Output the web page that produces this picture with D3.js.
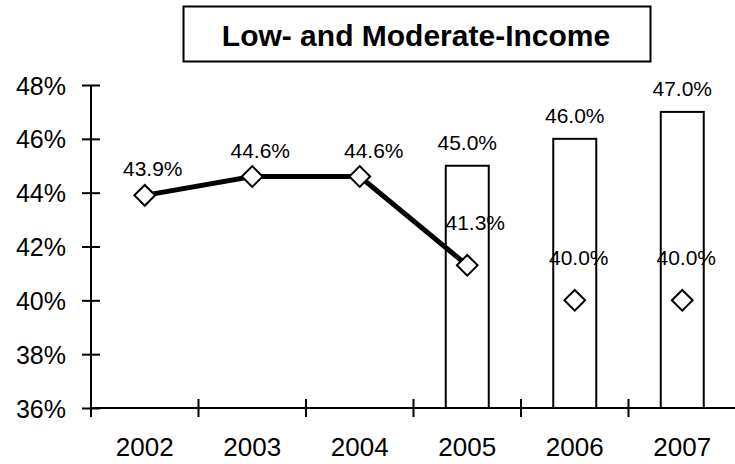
<!DOCTYPE html>
<html><head><meta charset="utf-8">
<script src="https://cdn.jsdelivr.net/npm/d3@7"></script>
<style>
body{margin:0;background:#fff;}
svg{display:block;}
text{font-family:"Liberation Sans",Arial,sans-serif;fill:#000;}
</style></head>
<body>
<svg id="chart" width="735" height="464"></svg>
<script>
const title = "Low- and Moderate-Income";
const years = ["2002","2003","2004","2005","2006","2007"];
const lineYears = ["2002","2003","2004","2005"];
const lineValues = [43.9, 44.6, 44.6, 41.3];
const pointYears = ["2006","2007"];
const pointValues = [40.0, 40.0];
const barYears = ["2005","2006","2007"];
const barValues = [45.0, 46.0, 47.0];
const yTicks = [36, 38, 40, 42, 44, 46, 48];

const svg = d3.select("#chart");
const x = d3.scaleBand().domain(years).range([91, 736]).paddingInner(0).paddingOuter(0);
const y = d3.scaleLinear().domain([36, 48]).range([408, 85]);
const barW = x.bandwidth() * 0.4;
const cx = d => x(d) + x.bandwidth() / 2;

// title box
svg.append("rect").attr("x", 183.5).attr("y", 6.5).attr("width", 467).attr("height", 55)
  .attr("fill", "#fff").attr("stroke", "#000").attr("stroke-width", 2);
svg.append("text").attr("x", 416).attr("y", 46).attr("text-anchor", "middle")
  .attr("font-size", 30).attr("font-weight", "bold").text(title);

// y axis
const yAxis = d3.axisLeft(y).tickValues(yTicks).tickSize(0).tickFormat(d => d + "%");
const gy = svg.append("g").attr("transform", "translate(91,0)").call(yAxis);
gy.select(".domain").remove();
gy.selectAll("text").attr("x", -25).attr("dy", "0.36em").attr("font-size", 25)
  .attr("font-family", "Liberation Sans, Arial, sans-serif");
gy.selectAll(".tick").append("line").attr("x1", -9).attr("x2", 9)
  .attr("stroke", "#000").attr("stroke-width", 2);
svg.append("line").attr("x1", 91).attr("x2", 91).attr("y1", y(48)).attr("y2", 417)
  .attr("stroke", "#000").attr("stroke-width", 2);

// x axis
const xAxis = d3.axisBottom(x).tickSize(0);
const gx = svg.append("g").attr("transform", "translate(0,408)").call(xAxis);
gx.select(".domain").remove();
gx.selectAll("text").attr("y", 48).attr("dy", 0).attr("font-size", 26)
  .attr("font-family", "Liberation Sans, Arial, sans-serif");
svg.append("line").attr("x1", 91).attr("x2", 735).attr("y1", 408).attr("y2", 408)
  .attr("stroke", "#000").attr("stroke-width", 2);
svg.append("g").selectAll("line").data(years.slice(1)).join("line")
  .attr("x1", d => x(d)).attr("x2", d => x(d)).attr("y1", 399).attr("y2", 417)
  .attr("stroke", "#000").attr("stroke-width", 2);

// bars
svg.append("g").selectAll("rect").data(barYears).join("rect")
  .attr("x", d => cx(d) - barW / 2).attr("width", barW)
  .attr("y", (d, i) => y(barValues[i])).attr("height", (d, i) => y(36) - y(barValues[i]))
  .attr("fill", "#fff").attr("stroke", "#000").attr("stroke-width", 2);

// bar labels
svg.append("g").selectAll("text").data(barYears).join("text")
  .attr("x", d => cx(d)).attr("y", (d, i) => y(barValues[i]) - 16)
  .attr("text-anchor", "middle").attr("font-size", 21)
  .text((d, i) => barValues[i].toFixed(1) + "%");

// line
const lineData = lineYears.map((d, i) => [cx(d), y(lineValues[i])]);
svg.append("path").attr("d", d3.line()(lineData)).attr("fill", "none")
  .attr("stroke", "#000").attr("stroke-width", 5);

// markers
const allPts = lineYears.map((d, i) => ({yr: d, v: lineValues[i], k: i}))
  .concat(pointYears.map((d, i) => ({yr: d, v: pointValues[i], k: lineYears.length + i})));
const diamond = d3.symbol().type(d3.symbolSquare).size(215);
svg.append("g").selectAll("path").data(allPts).join("path")
  .attr("d", diamond)
  .attr("transform", d => `translate(${cx(d.yr)},${y(d.v)}) rotate(45)`)
  .attr("fill", "#fff").attr("stroke", "#000").attr("stroke-width", 2);

// point labels
svg.append("g").selectAll("text").data(allPts).join("text")
  .attr("x", d => cx(d.yr) + (d.k >= 4 ? 4 : (d.k === 2 ? 14 : 8)))
  .attr("y", d => y(d.v) - (d.k >= 3 ? 35 : 19))
  .attr("text-anchor", "middle").attr("font-size", 21)
  .text(d => d.v.toFixed(1) + "%");
</script>
</body></html>
